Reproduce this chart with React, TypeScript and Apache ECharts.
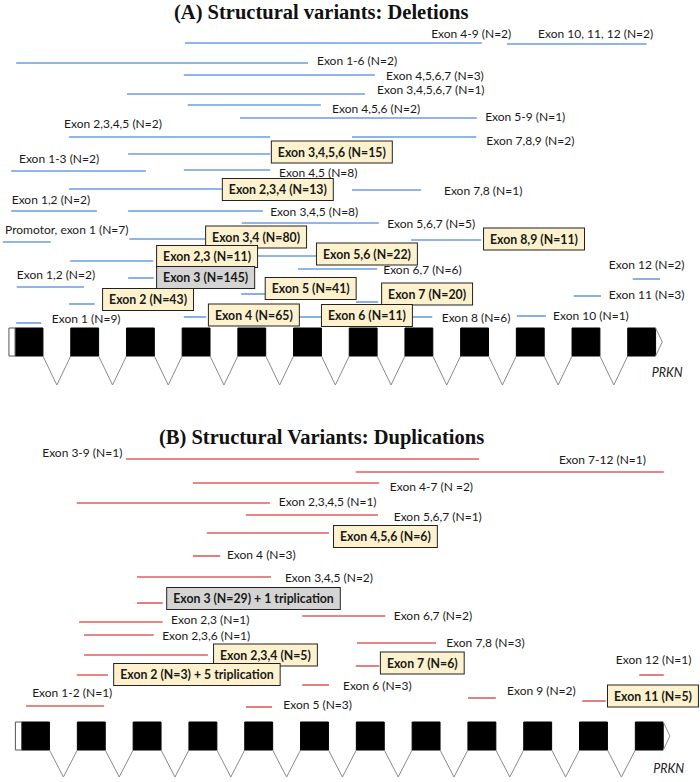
import React, { useEffect, useRef } from "react";
import * as echarts from "echarts";

// ---------- Gene model (PRKN, 12 exons) ----------
const EXONS = [1, 2, 3, 4, 5, 6, 7, 8, 9, 10, 11, 12];
const GENE_NAME = "PRKN";

// ---------- (A) Deletions ----------
// segment extent in exon units, vertical track, label anchor, label style (0 plain, 1 highlighted, 2 grey)
const delLabels = [
  "Exon 4-9 (N=2)", "Exon 10, 11, 12 (N=2)", "Exon 1-6 (N=2)", "Exon 4,5,6,7 (N=3)",
  "Exon 3,4,5,6,7 (N=1)", "Exon 4,5,6 (N=2)", "Exon 5-9 (N=1)", "Exon 2,3,4,5 (N=2)",
  "Exon 7,8,9 (N=2)", "Exon 3,4,5,6 (N=15)", "Exon 1-3 (N=2)", "Exon 4,5 (N=8)",
  "Exon 2,3,4 (N=13)", "Exon 7,8 (N=1)", "Exon 1,2 (N=2)", "Exon 3,4,5 (N=8)",
  "Exon 5,6,7 (N=5)", "Promotor, exon 1 (N=7)", "Exon 3,4 (N=80)", "Exon 8,9 (N=11)",
  "Exon 2,3 (N=11)", "Exon 5,6 (N=22)", "Exon 6,7 (N=6)", "Exon 1,2 (N=2)",
  "Exon 3 (N=145)", "Exon 5 (N=41)", "Exon 2 (N=43)", "Exon 7 (N=20)",
  "Exon 1 (N=9)", "Exon 4 (N=65)", "Exon 6 (N=11)", "Exon 8 (N=6)",
  "Exon 10 (N=1)", "Exon 11 (N=3)", "Exon 12 (N=2)",
];
const delStart = [
  3.80, 9.58, 0.77, 3.78, 2.76, 3.85, 4.79, 1.72, 6.80, 2.78, 0.68, 3.78,
  1.72, 6.80, 0.68, 2.78, 4.82, 0.53, 2.80, 7.86, 1.74, 4.75, 5.83, 0.78,
  2.78, 4.81, 1.72, 6.87, 0.77, 3.78, 5.83, 7.82, 9.76, 10.78, 11.84,
];
const delEnd = [
  9.13, 12.09, 6.01, 7.21, 7.03, 6.24, 9.04, 5.33, 9.03, 5.33, 3.10, 5.33,
  4.47, 8.04, 2.22, 5.20, 7.28, 1.39, 4.16, 9.12, 3.23, 6.17, 7.25, 1.99,
  3.24, 5.24, 2.18, 7.27, 1.22, 4.18, 6.26, 8.24, 10.28, 11.27, 12.33,
];
const delRow = [
  43, 44, 63, 75, 94, 105, 118, 137, 137, 154, 171, 170,
  189, 190, 211, 211, 223, 242, 239, 240, 261, 256, 269, 287,
  278, 294, 304, 302, 323, 317, 317, 317, 316, 296, 279,
];
const delLabelX = [
  8.22, 10.14, 6.17, 7.41, 7.25, 6.44, 9.19, 1.63, 9.21, 5.36, 0.82, 5.49,
  4.48, 8.45, 0.69, 5.33, 7.43, 0.57, 4.18, 9.17, 3.30, 6.17, 7.36, 0.78,
  3.30, 5.25, 2.33, 7.34, 1.41, 4.23, 6.26, 8.41, 10.41, 11.41, 11.41,
];
const delLabelRow = [
  33, 33, 60, 75, 89, 108, 116, 123, 140, 152, 158, 172,
  189.5, 190, 199, 211, 223, 229, 237, 239, 256.5, 254, 269, 274,
  277.5, 288.5, 299.5, 294, 318, 315, 315.5, 317, 315, 294, 264,
];
const delStyle = [
  0, 0, 0, 0, 0, 0, 0, 0, 0, 1, 0, 0,
  1, 0, 0, 0, 0, 0, 1, 1, 1, 1, 0, 0,
  2, 1, 1, 1, 0, 1, 1, 0, 0, 0, 0,
];

// ---------- (B) Duplications ----------
const dupLabels = [
  "Exon 3-9 (N=1)", "Exon 7-12 (N=1)", "Exon 4-7 (N =2)", "Exon 2,3,4,5 (N=1)",
  "Exon 5,6,7 (N=1)", "Exon 4,5,6 (N=6)", "Exon 4 (N=3)", "Exon 3,4,5 (N=2)",
  "Exon 3 (N=29) + 1 triplication", "Exon 2,3 (N=1)", "Exon 6,7 (N=2)", "Exon 2,3,6 (N=1)",
  "Exon 7,8 (N=3)", "Exon 2,3,4 (N=5)", "Exon 7 (N=6)", "Exon 2 (N=3) + 5 triplication",
  "Exon 1-2 (N=1)", "Exon 6 (N=3)", "Exon 5 (N=3)", "Exon 9 (N=2)",
  "Exon 11 (N=5)", "Exon 12 (N=1)",
];
const dupStart = [
  2.62, 6.74, 3.82, 1.74, 4.77, 4.07, 3.82, 2.82, 2.82, 1.78, 5.78, 1.87,
  6.76, 1.87, 6.74, 1.74, 0.83, 5.78, 4.77, 8.75, 10.80, 11.82,
];
const dupEnd = [
  8.95, 12.26, 7.16, 5.20, 7.14, 6.26, 4.31, 5.22, 3.28, 3.28, 7.27, 3.12,
  8.18, 4.09, 7.16, 2.30, 2.23, 6.26, 5.24, 9.25, 11.22, 12.26,
];
const dupRow = [
  29, 42, 53, 73, 85, 103, 126, 147, 173, 192, 186, 205,
  213, 225, 236, 245, 276, 255, 277, 268, 271, 245,
];
const dupLabelX = [
  1.12, 10.38, 7.35, 5.36, 7.42, 6.35, 4.43, 5.47, 3.36, 3.43, 7.42, 3.27,
  8.36, 4.20, 7.19, 2.41, 0.94, 6.51, 5.44, 9.45, 11.26, 11.40,
];
const dupLabelRow = [
  22, 29, 56, 71, 86, 106.5, 124, 147, 168.5, 189, 185, 205,
  212, 225, 233, 244.5, 262, 255, 274, 260, 266, 229,
];
const dupStyle = [
  0, 0, 0, 0, 0, 1, 0, 0, 2, 0, 0, 0,
  0, 1, 1, 1, 0, 0, 0, 0, 1, 0,
];

// ---------- gene-model tracks (vertical rows inside each panel) ----------
const GENE_A = { top: 328, bottom: 356, apex: 385, name: 372, nameX: 12.18 };
const GENE_B = { top: 292, bottom: 320, apex: 347, name: 338, nameX: 12.07 };

const FONT = "Lato, 'Open Sans', sans-serif";
const BLUE = "#6a9de2";
const RED = "#dc5f5e";

function segSeries(idx: number, start: number[], end: number[], row: number[], color: string) {
  return {
    type: "custom",
    xAxisIndex: idx,
    yAxisIndex: idx,
    clip: false,
    z: 2,
    data: start.map((s, i) => [s, end[i], row[i]]),
    encode: { x: [0, 1], y: 2 },
    renderItem: (_p: any, api: any) => {
      const a = api.coord([api.value(0), api.value(2)]);
      const b = api.coord([api.value(1), api.value(2)]);
      return {
        type: "line",
        shape: { x1: a[0], y1: a[1], x2: b[0], y2: b[1] },
        style: { stroke: color, lineWidth: 1.6 },
      };
    },
  };
}

function labelSeries(idx: number, labels: string[], lx: number[], lrow: number[], style: number[]) {
  return {
    type: "custom",
    xAxisIndex: idx,
    yAxisIndex: idx,
    clip: false,
    z: 5,
    data: lx.map((x, i) => [x, lrow[i], i]),
    encode: { x: 0, y: 1 },
    renderItem: (_p: any, api: any) => {
      const i = api.value(2);
      const p = api.coord([api.value(0), api.value(1)]);
      const st = style[i];
      const boxed = st > 0;
      return {
        type: "text",
        x: p[0],
        y: p[1],
        style: {
          text: labels[i],
          fill: "#1a1a1a",
          fontFamily: FONT,
          fontSize: boxed ? 12.3 : 12,
          fontWeight: boxed ? "bold" : "normal",
          align: "left",
          verticalAlign: "middle",
          backgroundColor: st === 1 ? "#fdf2cd" : st === 2 ? "#d4d4d4" : undefined,
          borderColor: boxed ? "#222" : undefined,
          borderWidth: boxed ? 1 : 0,
          padding: boxed ? [5, 6, 4, 6] : 0,
        },
      };
    },
  };
}

function geneSeries(idx: number, g: { top: number; bottom: number; apex: number }) {
  return {
    type: "custom",
    xAxisIndex: idx,
    yAxisIndex: idx,
    clip: false,
    z: 1,
    data: EXONS.map((e) => [e]),
    encode: { x: 0 },
    renderItem: (_p: any, api: any) => {
      const e = api.value(0);
      const tl = api.coord([e - 0.25, g.top]);
      const br = api.coord([e + 0.25, g.bottom]);
      const children: any[] = [
        {
          type: "rect",
          shape: { x: tl[0], y: tl[1], width: br[0] - tl[0], height: br[1] - tl[1] },
          style: { fill: "#000", stroke: "#000", lineWidth: 1 },
        },
      ];
      if (e === 1) {
        const w0 = api.coord([e - 0.36, g.top]);
        children.push({
          type: "rect",
          shape: { x: w0[0], y: w0[1], width: tl[0] - w0[0], height: br[1] - tl[1] },
          style: { fill: "#fff", stroke: "#555", lineWidth: 1 },
        });
      }
      if (e < EXONS.length) {
        const a = api.coord([e + 0.25, g.bottom]);
        const m = api.coord([e + 0.5, g.apex]);
        const b = api.coord([e + 0.75, g.bottom]);
        children.push({
          type: "polyline",
          shape: { points: [a, m, b] },
          style: { stroke: "#8a8a8a", lineWidth: 1, fill: null },
        });
      } else {
        const a = api.coord([e + 0.25, g.top]);
        const m = api.coord([e + 0.37, (g.top + g.bottom) / 2]);
        const b = api.coord([e + 0.25, g.bottom]);
        children.push({
          type: "polyline",
          shape: { points: [a, m, b] },
          style: { stroke: "#8a8a8a", lineWidth: 1, fill: null },
        });
      }
      return { type: "group", children };
    },
  };
}

function nameSeries(idx: number, g: { name: number; nameX: number }) {
  return {
    type: "custom", xAxisIndex: idx, yAxisIndex: idx, clip: false, z: 3,
    data: [[g.nameX, g.name]], encode: { x: 0, y: 1 },
    renderItem: (_p: any, api: any) => {
      const p = api.coord([api.value(0), api.value(1)]);
      return {
        type: "text", x: p[0], y: p[1],
        style: { text: GENE_NAME, fill: "#222", font: "italic 12.5px " + FONT, align: "left", verticalAlign: "middle" },
      };
    },
  };
}

export default function App() {
  const ref = useRef<HTMLDivElement>(null);
  useEffect(() => {
    if (!ref.current) return;
    const chart = echarts.init(ref.current, undefined, { renderer: "svg" });
    const hiddenX = (min: number, max: number, gridIndex: number) => ({
      type: "value", gridIndex, min, max, show: false, splitLine: { show: false },
    });
    const hiddenY = (max: number, gridIndex: number) => ({
      type: "value", gridIndex, min: 0, max, inverse: true, show: false, splitLine: { show: false },
    });
    chart.setOption({
      animation: false,
      backgroundColor: "#fff",
      grid: [
        { left: 1.15, right: 8.2, top: 0, height: 400 },
        { left: 7.6, right: 0.5, top: 430, height: 352 },
      ],
      xAxis: [hiddenX(0.5, 12.9, 0), hiddenX(0.5, 12.9, 1)],
      yAxis: [hiddenY(400, 0), hiddenY(352, 1)],
      graphic: [
        {
          type: "text", left: 174, top: 1,
          style: {
            text: "(A) Structural variants: Deletions", fill: "#111",
            font: "bold 20.5px 'Liberation Serif', 'Times New Roman', serif",
          },
        },
        {
          type: "text", left: 159, top: 426,
          style: {
            text: "(B) Structural Variants: Duplications", fill: "#111",
            font: "bold 20.5px 'Liberation Serif', 'Times New Roman', serif",
          },
        },
      ],
      series: [
        geneSeries(0, GENE_A),
        segSeries(0, delStart, delEnd, delRow, BLUE),
        labelSeries(0, delLabels, delLabelX, delLabelRow, delStyle),
        nameSeries(0, GENE_A),
        geneSeries(1, GENE_B),
        segSeries(1, dupStart, dupEnd, dupRow, RED),
        labelSeries(1, dupLabels, dupLabelX, dupLabelRow, dupStyle),
        nameSeries(1, GENE_B),
      ],
    });
    return () => chart.dispose();
  }, []);
  return (
    <div
      ref={ref}
      style={{ position: "absolute", left: 0, top: 0, width: 700, height: 782, background: "#fff" }}
    />
  );
}
